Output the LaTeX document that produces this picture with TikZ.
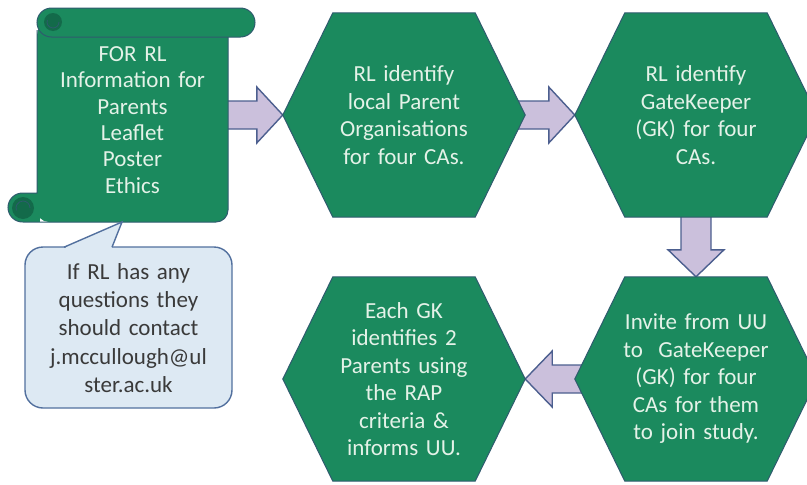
\documentclass[tikz,border=0pt]{standalone}
\usepackage{fontspec}
\setmainfont{Carlito}
\usetikzlibrary{calc,backgrounds}
\definecolor{gfill}{HTML}{1B8A5E}
\definecolor{gdark}{HTML}{136A4A}
\definecolor{gline}{HTML}{2F5B6E}
\definecolor{gtext}{HTML}{E4F2E8}
\definecolor{afill}{HTML}{CBC0DC}
\definecolor{aline}{HTML}{4C5F8F}
\definecolor{nfill}{HTML}{DDE9F3}
\definecolor{nline}{HTML}{52709E}
\definecolor{ntext}{HTML}{3A3A3A}
\begin{document}
\begin{tikzpicture}[x=1pt,y=-1pt,
  hexnode/.style={minimum width=242pt, minimum height=204pt, inner sep=0pt,
    text width=200pt, align=center, text=gtext, font=\fontsize{23}{27.5}\selectfont},
  hexshape/.style={fill=gfill, draw=gline, line width=1pt},
  scrolltext/.style={minimum width=191pt, minimum height=204pt, inner sep=0pt,
    text width=185pt, align=center, text=gtext, font=\fontsize{23}{26.3}\selectfont},
  notetext/.style={minimum width=207pt, minimum height=161pt, inner sep=0pt,
    text width=200pt, align=center, text=ntext, font=\fontsize{23}{28.3}\selectfont},
  notebox/.style={fill=nfill, draw=nline, line width=1.4pt},
  barrow/.style={fill=afill, draw=aline, line width=1.4pt, line join=miter},
  scrollline/.style={draw=gline, line width=1pt}]
\useasboundingbox (0,0) rectangle (807,485);

% text nodes
\node[scrolltext] (scroll) at (132.5,120) {FOR RL\\Information for\\Parents\\Leaflet\\Poster\\Ethics};
\node[hexnode] (h1) at (404,115) {RL identify\\local Parent\\Organisations\\for four CAs.};
\node[hexnode] (h2) at (696,115) {RL identify\\GateKeeper\\(GK) for four\\CAs.};
\node[hexnode] (h3) at (404,379) {Each GK\\identifies 2\\Parents using\\the RAP\\criteria \&\\informs UU.};
\node[hexnode] (h4) at (696,379) {Invite from UU\\to~~GateKeeper\\(GK) for four\\CAs for them\\to join study.};
\node[notetext] (note) at (128.5,328) {If RL has any\\questions they\\should contact\\j.mccullough@ul\\ster.ac.uk};

\begin{scope}[on background layer]
  % block arrows
  \filldraw[barrow] let \p1=(scroll.east), \p2=(h1.west) in
    (\x1-6pt,\y2+14pt) -- (\x2-26pt,\y2+14pt) -- (\x2-26pt,\y2+28pt) -- (\x2,\y2)
    -- (\x2-26pt,\y2-28pt) -- (\x2-26pt,\y2-14pt) -- (\x1-6pt,\y2-14pt) -- cycle;
  \filldraw[barrow] let \p1=(h1.east), \p2=(h2.west) in
    (\x1-10pt,\y2+14pt) -- (\x2-26pt,\y2+14pt) -- (\x2-26pt,\y2+28pt) -- (\x2,\y2)
    -- (\x2-26pt,\y2-28pt) -- (\x2-26pt,\y2-14pt) -- (\x1-10pt,\y2-14pt) -- cycle;
  \filldraw[barrow] let \p1=(h2.south), \p2=(h4.north) in
    (\x1+15pt,\y1+4pt) -- (\x1+15pt,\y2+27pt) -- (\x1+28pt,\y2+27pt) -- (\x1,\y2)
    -- (\x1-28pt,\y2+27pt) -- (\x1-15pt,\y2+27pt) -- (\x1-15pt,\y1+4pt) -- cycle;
  \filldraw[barrow] let \p1=(h4.west), \p2=(h3.east) in
    (\x1+10pt,\y2+14pt) -- (\x2+27pt,\y2+14pt) -- (\x2+27pt,\y2+28pt) -- (\x2,\y2)
    -- (\x2+27pt,\y2-28pt) -- (\x2+27pt,\y2-14pt) -- (\x1+10pt,\y2-14pt) -- cycle;

  % hexagons
  \foreach \n in {h1,h2,h3,h4} {
    \filldraw[hexshape] (\n.west) -- ($(\n.north west)+(50,0)$) -- ($(\n.north east)+(-50,0)$)
      -- (\n.east) -- ($(\n.south east)+(-50,0)$) -- ($(\n.south west)+(50,0)$) -- cycle;
  }

  % scroll
  \fill[gfill, rounded corners=12pt] (37,23) rectangle (228,222);
  \fill[gfill] (22.5,207.5) circle[radius=14.5pt];
  \fill[gfill] (22.5,193) rectangle (40,222);
  \draw[scrollline] (37,30) -- (37,193) -- (22.5,193) arc[start angle=90, end angle=270, radius=14.5pt];
  \draw[scrollline, rounded corners=12pt] (22.5,222) -- (228,222) -- (228,36);
  \fill[gdark] (23,208) circle[radius=11pt];
  \draw[gline, line width=0.8pt] (30,208) arc[start angle=0, end angle=200, radius=7pt];
  \filldraw[gfill, draw=gline, line width=1pt, rounded corners=14.5pt] (37,8) rectangle (255,37);
  \fill[gdark] (53,22) circle[radius=9pt];
  \draw[gline, line width=0.8pt] (59,22) arc[start angle=0, end angle=-200, radius=6pt];

  % callout
  \filldraw[notebox, rounded corners=18pt] (25,247) rectangle (232,408);
  \fill[nfill] (66,247) -- (122,222) -- (112,247) -- (112,251) -- (66,251) -- cycle;
  \draw[nline, line width=1.4pt, line join=miter] (64,247.2) -- (122,222) -- (112,247.2);
\end{scope}
\end{tikzpicture}
\end{document}
